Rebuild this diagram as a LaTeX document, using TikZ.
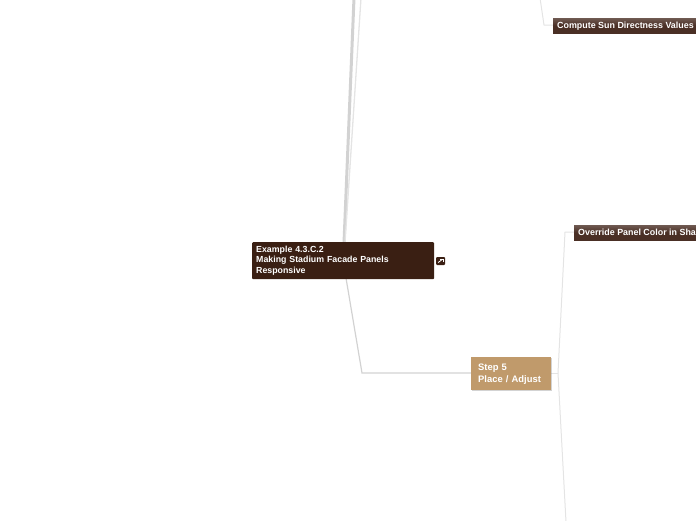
\documentclass[tikz,border=0pt]{standalone}
\usepackage{fontspec}
\setmainfont{Liberation Sans}
\definecolor{rootbrown}{HTML}{3A1F13}
\definecolor{tan}{HTML}{C09A6B}
\definecolor{leafbrown}{HTML}{4A2F25}
\definecolor{linegray}{HTML}{D2D2D2}
\definecolor{lightline}{HTML}{E4E4E4}
\usetikzlibrary{shadows}
\tikzset{
  rootbox/.style={fill=rootbrown, rounded corners=1pt, text=white, font=\fontsize{8.8}{10.5}\selectfont\bfseries, align=left, anchor=north west, inner xsep=4pt, inner ysep=3.5pt, text width=174pt, minimum height=37pt},
  stepbox/.style={fill=tan, text=white, font=\fontsize{9.4}{12}\selectfont\bfseries, align=left, anchor=north west, inner xsep=7pt, inner ysep=5pt, text width=66pt, minimum height=33pt, drop shadow={shadow xshift=0.6pt, shadow yshift=-0.8pt, opacity=0.35}},
  leafbox/.style={top color=leafbrown!80!white, bottom color=leafbrown, middle color=leafbrown, text=white, font=\fontsize{8.9}{10}\selectfont\bfseries, anchor=north west, inner xsep=4pt, inner ysep=2.5pt, minimum height=15pt, drop shadow={shadow xshift=0.6pt, shadow yshift=-0.8pt, opacity=0.3}},
  thickline/.style={draw=linegray, line width=3pt},
  midline/.style={draw=linegray, line width=1.2pt},
  thinline/.style={draw=lightline, line width=1pt},
}
\begin{document}
\begin{tikzpicture}[x=1pt,y=-1pt]
\useasboundingbox (0,0) rectangle (696,520);
\clip (0,0) rectangle (696,520);
% coordinates for free ends
\coordinate (topA) at (354,-2);
\coordinate (topB) at (361,-2);
\coordinate (bottomEnd) at (566,522);
\coordinate (sunTop) at (540,-2);
% connectors behind nodes
\draw[thickline] (344,243) -- (topA);
\draw[thinline, line width=1.3pt] (345,243) -- (topB);
\draw[midline] (346,278) -- (362,373) -- (472,373);
\draw[thinline] (550,373) -- (558,373);
\draw[thinline] (558,373) -- (565,232) -- (575,232);
\draw[thinline] (558,373) -- (bottomEnd);
\draw[thinline] (sunTop) -- (544,25) -- (554,25);
% nodes
\node[rootbox] (root) at (252,242) {Example 4.3.C.2\\Making Stadium Facade Panels\\Responsive};
\node[stepbox] (step5) at (471,357) {\hyphenpenalty=10000 Step 5\\Place / Adjust};
\node[leafbox] (sun) at (553,18) {Compute Sun Directness Values};
\node[leafbox] (override) at (574,225) {Override Panel Color in Shadow};
% small link icon
\node[fill=rootbrown, rounded corners=1pt, minimum width=9pt, minimum height=8pt, inner sep=0pt, anchor=west] (icon) at (436,261) {};
\draw[white, line width=0.8pt] ([xshift=-2.5pt,yshift=-1.5pt]icon.center) -- ([xshift=1.5pt,yshift=1.5pt]icon.center);
\draw[white, line width=0.8pt] ([xshift=-0.5pt,yshift=2pt]icon.center) -- ([xshift=2.5pt,yshift=2pt]icon.center) -- ([xshift=2.5pt,yshift=-1pt]icon.center);
\end{tikzpicture}
\end{document}
